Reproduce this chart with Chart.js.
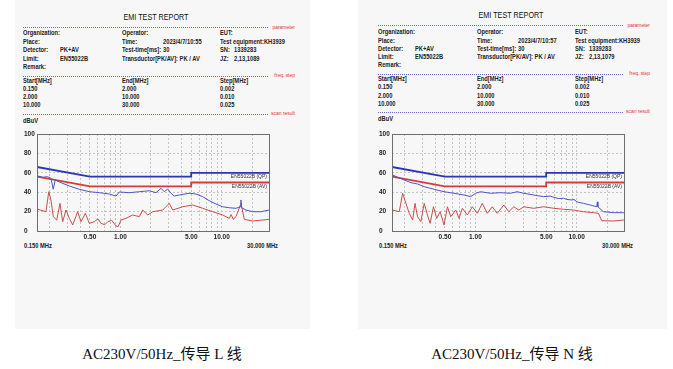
<!DOCTYPE html>
<html>
<head>
<meta charset="utf-8">
<script src="https://cdn.jsdelivr.net/npm/chart.js@4.4.0/dist/chart.umd.min.js"></script>
<style>
body{margin:0;width:673px;height:369px;background:#fff;position:relative;overflow:hidden;
  font-family:'Liberation Sans',sans-serif;}
.panel{position:absolute;top:0;height:329px;background:#f7f7f7;}
.t{position:absolute;font-size:7px;font-weight:bold;color:#222;white-space:nowrap;line-height:8px;
  transform:scaleX(0.82);transform-origin:0 50%;}
.title{position:absolute;font-size:8.5px;color:#111;white-space:nowrap;line-height:10px;
  transform:translateX(-50%) scaleX(0.85);transform-origin:50% 50%;}
.rule{position:absolute;height:0;border-top:1px dotted #6a6acc;}
.tag{position:absolute;font-size:5.5px;color:#d33;white-space:nowrap;line-height:6px;
  transform:translateX(-100%) scaleX(0.9);transform-origin:100% 50%;}
.cap{position:absolute;font-family:'Liberation Serif','Noto Sans CJK SC',serif;font-size:15px;line-height:18px;
  color:#111;white-space:nowrap;transform:translateX(-50%);}
canvas{position:absolute;}
</style>
</head>
<body>
<div class="panel" style="left:15px;width:295px"></div>
<div class="panel" style="left:358px;width:309px"></div>
<script>
// limits (EN55022B class B)
const limFreq = [0.15, 0.5, 5, 5, 30];
const qpLimit = [66, 56, 56, 60, 60];
const avLimit = [56, 46, 46, 50, 50];

// x axis grid and labels
const gridFreq = [0.2,0.3,0.4,0.5,0.6,0.7,0.8,0.9,1,2,3,4,5,6,7,8,9,10,20];
const xTickVals = [0.5, 1, 5, 10];
const xTickLabels = ['0.50', '1.00', '5.00', '10.00'];

// L line, peak trace
const lPkFreq = [0.150,0.152,0.171,0.191,0.206,0.217,0.227,0.259,0.313,0.393,0.493,0.619,0.777,0.904,0.975,1.223,1.536,1.929,2.245,2.515,2.712,2.930,3.159,3.405,3.814,4.788,5.576,6.496,7.545,8.787,10.23,11.89,13.85,15.30,15.51,15.70,17.38,20.25,24.45,29.5,30.0];
const lPkLevel = [57.0,56.7,55.4,56.0,54.3,43.0,52.6,49.8,46.4,43.0,40.5,39.5,38.1,36.0,40.2,39.5,40.5,41.5,39.5,44.0,40.5,43.3,38.9,36.0,37.1,38.9,38.1,35.4,31.2,27.8,25.0,24.0,23.4,25.0,32.0,24.0,21.6,19.9,19.9,21.6,21.6];
// L line, average trace
const lAvFreq = [0.150,0.152,0.184,0.196,0.206,0.217,0.235,0.253,0.269,0.290,0.313,0.338,0.378,0.408,0.450,0.493,0.552,0.600,0.643,0.700,0.749,0.820,0.904,0.950,1.013,1.135,1.322,1.536,1.659,1.860,2.084,2.615,3.037,3.282,4.121,5.172,6.496,8.154,10.23,11.89,12.40,13.00,13.85,15.51,16.73,20.25,29.5,30.0];
const lAvLevel = [23.0,22.4,19.9,40.5,32.0,14.8,11.3,28.5,9.6,21.6,13.0,6.2,19.9,9.6,18.2,7.9,9.6,12.5,7.9,6.5,9.6,11.0,5.2,4.5,11.3,13.0,16.5,14.8,21.6,16.5,19.9,21.6,28.5,21.6,25.0,26.8,23.4,19.9,16.5,13.0,17.0,12.0,14.8,28.5,12.0,10.3,12.0,12.0];

// N line, peak trace
const nPkFreq = [0.150,0.152,0.171,0.198,0.231,0.268,0.312,0.391,0.490,0.615,0.772,0.897,1.005,1.125,1.412,1.770,2.220,2.582,3.001,3.765,4.722,5.500,5.922,6.600,7.425,8.000,8.968,9.400,10.04,10.50,11.68,13.58,15.80,16.00,16.20,18.36,23.04,28.89,30.0];
const nPkLevel = [57.5,57.7,55.4,52.6,49.8,48.5,45.7,43.0,40.5,38.9,37.1,35.4,38.9,40.5,38.9,39.5,38.9,40.5,38.9,37.1,35.4,36.0,34.7,33.5,33.7,32.5,32.0,32.5,30.2,29.5,28.5,26.8,25.0,30.0,25.0,19.9,18.9,18.9,18.9];
// N line, average trace
const nAvFreq = [0.150,0.152,0.177,0.191,0.206,0.222,0.240,0.253,0.268,0.289,0.312,0.336,0.357,0.385,0.415,0.448,0.490,0.529,0.570,0.639,0.689,0.743,0.832,0.932,1.044,1.169,1.309,1.466,1.641,1.909,2.136,2.394,2.681,3.001,3.765,4.722,5.922,7.425,9.313,11.68,14.64,16.40,17.69,23.04,28.89,30.0];
const nAvLevel = [21.8,21.6,19.9,38.9,28.5,18.2,11.3,28.5,14.8,9.6,28.5,16.5,7.9,25.0,13.0,19.9,6.2,25.0,14.8,21.6,13.0,23.4,16.5,25.0,18.2,28.5,18.2,25.0,18.2,26.8,19.9,25.0,21.6,25.0,23.4,25.0,23.4,22.4,21.6,19.9,18.9,18.2,10.6,10.3,11.3,11.3];

const FONT = "'Liberation Sans',sans-serif";
const pts = (fs, vs) => fs.map((f, i) => ({x: f, y: vs[i]}));

function text(cls, s, x, y) {
  const d = document.createElement('div');
  d.className = cls;
  d.textContent = s;
  d.style.left = x + 'px';
  d.style.top = (y - 4) + 'px';
  document.body.appendChild(d);
  return d;
}

function rule(x, y, w) {
  const d = document.createElement('div');
  d.className = 'rule';
  d.style.left = x + 'px';
  d.style.top = y + 'px';
  d.style.width = w + 'px';
  document.body.appendChild(d);
}

const limitLabels = {
  id: 'limitLabels',
  afterDatasetsDraw(chart) {
    const {ctx, chartArea: a, scales: {y}} = chart;
    ctx.save();
    ctx.strokeStyle = '#6e6e6e';
    ctx.lineWidth = 1;
    ctx.strokeRect(a.left + 0.5, a.top + 0.5, a.right - a.left - 1, a.bottom - a.top);
    ctx.font = '5px ' + FONT;
    ctx.fillStyle = '#333';
    ctx.textAlign = 'right';
    ctx.textBaseline = 'top';
    ctx.fillText('EN55022B (QP)', a.right - 3, y.getPixelForValue(qpLimit[4]) + 1.5);
    ctx.fillText('EN55022B (AV)', a.right - 3, y.getPixelForValue(avLimit[4]) + 1.5);
    ctx.restore();
  }
};

function panel(ox, oy, info, pk, av, caption, capX) {
  text('title', 'EMI TEST REPORT', ox + 132.7, oy + 15.7);
  rule(ox, oy + 26.7, 245);
  rule(ox, oy + 75.7, 245);
  rule(ox, oy + 113.7, 245);
  text('tag', 'parameter', ox + 271.5, oy + 27.5);
  text('tag', 'freq. step', ox + 271.5, oy + 75.5);
  text('tag', 'scan result', ox + 271.5, oy + 113.5);

  const rows = [
    ['Organization:', 0, 33.3], ['Operator:', 98.4, 33.3], ['EUT:', 196.7, 33.3],
    ['Place:', 0, 42], ['Time:', 98.4, 42], [info.time, 140, 42], ['Test equipment:KH3939', 196.7, 42],
    ['Detector:', 0, 50.3], ['PK+AV', 36.7, 50.3], ['Test-time[ms]:', 98.4, 50.3], ['30', 140, 50.3],
    ['SN:', 196.7, 50.3], ['1339283', 210.7, 50.3],
    ['Limit:', 0, 58.7], ['EN55022B', 36.7, 58.7], ['Transductor[PK/AV]: PK  /  AV', 98.4, 58.7],
    ['JZ:', 196.7, 58.7], [info.jz, 210.7, 58.7],
    ['Remark:', 0, 66.7],
    ['Start[MHz]', 0, 80.5], ['End[MHz]', 98.4, 80.5], ['Step[MHz]', 196.7, 80.5],
    ['0.150', 0, 88.7], ['2.000', 98.4, 88.7], ['0.002', 196.7, 88.7],
    ['2.000', 0, 97], ['10.000', 98.4, 97], ['0.010', 196.7, 97],
    ['10.000', 0, 105], ['30.000', 98.4, 105], ['0.025', 196.7, 105],
    ['dBuV', 0, 120.7]
  ];
  rows.forEach(r => text('t', r[0], ox + r[1], oy + r[2]));

  text('t', '0.150 MHz', ox + 0.7, 246);
  text('t', '30.000 MHz', ox + 223.4, 246);
  const c = text('cap', caption, capX, 0);
  c.style.top = '345px';

  const cv = document.createElement('canvas');
  cv.width = 295; cv.height = 122;
  cv.style.left = (ox - 8.3) + 'px';
  cv.style.top = '125px';
  document.body.appendChild(cv);

  new Chart(cv, {
    type: 'line',
    data: {
      datasets: [
        {data: pts(pk[0], pk[1]), borderColor: '#4a55c8', borderWidth: 1},
        {data: pts(av[0], av[1]), borderColor: '#cc4d4d', borderWidth: 1},
        {data: pts(limFreq, qpLimit), borderColor: '#2a35b8', borderWidth: 1.8},
        {data: pts(limFreq, avLimit), borderColor: '#d83a3a', borderWidth: 1.8}
      ]
    },
    options: {
      responsive: false,
      animation: false,
      events: [],
      elements: {point: {radius: 0}, line: {tension: 0}},
      layout: {padding: {left: 9, right: 40, top: 9, bottom: 4}},
      plugins: {legend: {display: false}, tooltip: {enabled: false}},
      scales: {
        x: {
          type: 'logarithmic', min: 0.15, max: 30,
          afterBuildTicks: s => { s.ticks = gridFreq.map(v => ({value: v})); },
          afterFit: s => { s.height = 12; },
          grid: {color: '#c4c4c4', drawTicks: false},
          border: {display: false, dash: [2, 2]},
          ticks: {
            autoSkip: false, maxRotation: 0, padding: 2, color: '#222',
            font: {family: FONT, size: 6.5, weight: 'bold'},
            callback: v => {
              const i = xTickVals.indexOf(v);
              return i < 0 ? '' : xTickLabels[i];
            }
          }
        },
        y: {
          min: 0, max: 100,
          afterFit: s => { s.width = 13; },
          grid: {color: '#c4c4c4', drawTicks: false},
          border: {display: false, dash: [2, 2]},
          ticks: {stepSize: 10, crossAlign: 'far', padding: 2, color: '#222',
            font: {family: FONT, size: 6.5, weight: 'bold'}}
        }
      }
    },
    plugins: [limitLabels]
  });
}

panel(23.3, 0, {time: '2023/4/7/10:55', jz: '2,13,1089'},
  [lPkFreq, lPkLevel], [lAvFreq, lAvLevel], 'AC230V/50Hz_传导 L 线', 162);
panel(378.3, -1.5, {time: '2023/4/7/10:57', jz: '2,13,1079'},
  [nPkFreq, nPkLevel], [nAvFreq, nAvLevel], 'AC230V/50Hz_传导 N 线', 512);
</script>
</body>
</html>
